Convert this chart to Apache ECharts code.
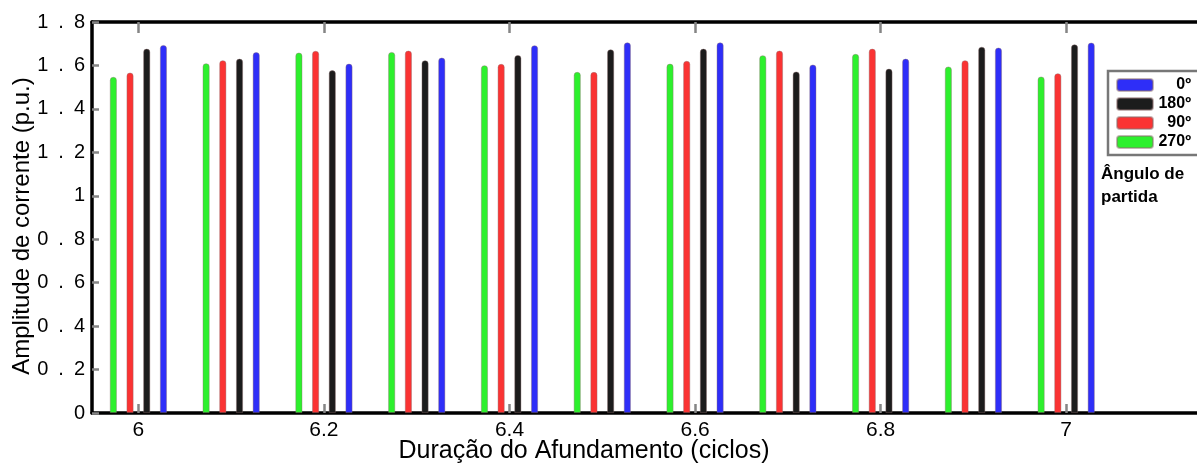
<!DOCTYPE html>
<html>
<head>
<meta charset="utf-8">
<script src="https://cdn.jsdelivr.net/npm/echarts@6/dist/echarts.min.js"></script>
<style>
  html, body { margin: 0; padding: 0; background: #fff; }
  #chart { width: 1197px; height: 466px; }
</style>
</head>
<body>
<div id="chart"></div>
<script>
// Sag duration (cycles)
const durations = [6.0, 6.1, 6.2, 6.3, 6.4, 6.5, 6.6, 6.7, 6.8, 6.9, 7.0];

// Peak current amplitude (p.u.) for each starting angle
const angle0   = [1.694, 1.661, 1.608, 1.636, 1.693, 1.706, 1.706, 1.604, 1.631, 1.682, 1.705];
const angle180 = [1.677, 1.631, 1.578, 1.624, 1.648, 1.674, 1.677, 1.572, 1.585, 1.686, 1.697];
const angle90  = [1.567, 1.624, 1.667, 1.668, 1.607, 1.570, 1.621, 1.668, 1.677, 1.624, 1.564];
const angle270 = [1.547, 1.610, 1.659, 1.662, 1.601, 1.570, 1.608, 1.647, 1.653, 1.595, 1.549];

const seriesNames = ['0º', '180º', '90º', '270º'];
const xTickValues = [6, 6.2, 6.4, 6.6, 6.8, 7];

const FONT = '"Liberation Sans", Arial, Helvetica, sans-serif';

// bars of one duration are spread side by side around the tick
const spread = { '270º': -0.027, '90º': -0.009, '180º': 0.009, '0º': 0.027 };
const colors = { '0º': '#2e2ef8', '180º': '#1c1c1c', '90º': '#fa3333', '270º': '#2df02d' };
const valuesByName = { '0º': angle0, '180º': angle180, '90º': angle90, '270º': angle270 };

function makeSeries(name) {
  return {
    name: name,
    type: 'bar',
    xAxisIndex: 0,
    yAxisIndex: 0,
    barWidth: 7,
    barGap: '-100%',
    itemStyle: {
      color: colors[name],
      borderColor: 'rgba(140,110,110,0.5)',
      borderWidth: 0.8,
      borderRadius: [3, 3, 0, 0]
    },
    data: durations.map((d, i) => [d + spread[name], valuesByName[name][i]])
  };
}

const chart = echarts.init(document.getElementById('chart'), null, { renderer: 'canvas' });

const grayTick = { show: true, inside: true, lineStyle: { color: '#858585', width: 2.5 } };

chart.setOption({
  backgroundColor: '#ffffff',
  animation: false,
  grid: { left: 92, top: 22, right: 0, height: 391, containLabel: false },
  xAxis: [
    {
      type: 'value',
      position: 'bottom',
      min: 5.95,
      max: 7.141,
      axisLine: { show: true, onZero: false, lineStyle: { color: '#000', width: 3.5 } },
      axisTick: Object.assign({ length: 9, customValues: xTickValues }, grayTick),
      axisLabel: {
        customValues: xTickValues,
        color: '#000',
        fontSize: 21,
        fontFamily: FONT,
        margin: 7,
        formatter: v => String(+v.toFixed(1))
      },
      splitLine: { show: false }
    },
    {
      type: 'value',
      position: 'top',
      min: 5.95,
      max: 7.141,
      axisLine: { show: true, onZero: false, lineStyle: { color: '#000', width: 3.5 } },
      axisTick: Object.assign({ length: 11, customValues: xTickValues }, grayTick),
      axisLabel: { show: false },
      splitLine: { show: false }
    }
  ],
  yAxis: {
    type: 'value',
    min: 0,
    max: 1.8,
    interval: 0.2,
    axisLine: { show: true, lineStyle: { color: '#000', width: 3.5 } },
    axisTick: Object.assign({ length: 7 }, grayTick),
    axisLabel: {
      color: '#000',
      fontSize: 20,
      fontFamily: FONT,
      margin: 7,
      formatter: v => String(+v.toFixed(1)).split('').join('\u2002')
    },
    splitLine: { show: false }
  },
  legend: {
    data: seriesNames,
    left: 1108,
    top: 71,
    orient: 'vertical',
    icon: 'roundRect',
    itemWidth: 36,
    itemHeight: 12,
    itemGap: 3,
    itemTextGap: 3,
    padding: [6, 12, 5, 8],
    borderColor: '#777',
    borderWidth: 2.5,
    backgroundColor: '#fff',
    selectedMode: false,
    formatter: name => '{t|' + name + '}',
    textStyle: {
      lineHeight: 12,
      rich: {
        t: {
          width: 33,
          align: 'right',
          fontSize: 16,
          fontWeight: 'bold',
          fontFamily: FONT,
          color: '#000',
          lineHeight: 12,
          height: 12
        }
      }
    }
  },
  graphic: [
    {
      type: 'text',
      x: 22,
      y: 226,
      rotation: Math.PI / 2,
      style: {
        text: 'Amplitude de corrente (p.u.)',
        font: '24px ' + FONT,
        fill: '#000',
        align: 'center',
        verticalAlign: 'middle',
        textAlign: 'center',
        textVerticalAlign: 'middle'
      }
    },
    {
      type: 'text',
      x: 584,
      y: 451,
      style: {
        text: 'Duração do Afundamento (ciclos)',
        font: '25px ' + FONT,
        fill: '#000',
        align: 'center',
        verticalAlign: 'middle',
        textAlign: 'center',
        textVerticalAlign: 'middle'
      }
    },
    {
      type: 'text',
      x: 1101,
      y: 163,
      style: {
        text: 'Ângulo de\npartida',
        font: 'bold 17px ' + FONT,
        fill: '#000',
        lineHeight: 23
      }
    }
  ],
  series: ['270º', '90º', '180º', '0º'].map(makeSeries)
});
</script>
</body>
</html>
